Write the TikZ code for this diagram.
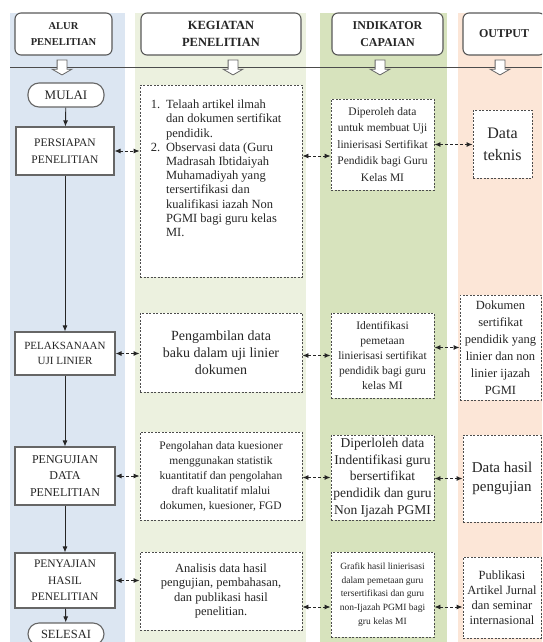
\documentclass[tikz,border=0pt]{standalone}
\usepackage{fontspec}
\setmainfont{Liberation Serif}
\usetikzlibrary{positioning,shapes.arrows,arrows.meta}
\definecolor{colblue}{RGB}{220,230,242}
\definecolor{colkeg}{RGB}{236,241,223}
\definecolor{colind}{RGB}{215,227,189}
\definecolor{colout}{RGB}{252,230,215}
\newcommand\fsz[2]{\fontsize{#1}{#2}\selectfont}
\tikzset{
  hdr/.style={
    draw=black!65, fill=white, rounded corners=6pt, line width=1.1pt, align=center, inner sep=0pt,
    text=black!85
  },
  alur/.style={
    draw=black!60, fill=white, line width=1.1pt, align=center, inner sep=0pt, text=black!85
  },
  term/.style={
    alur, rounded corners=11pt
  },
  dbox/.style={
    draw=black!70, fill=white, line width=0.9pt, dash pattern=on 2pt off 1.5pt, align=center,
    inner sep=0pt, text=black!85
  },
  downarr/.style={
    single arrow, draw=black!60, fill=white, line width=0.8pt, shape border rotate=270,
    inner sep=4.5pt, single arrow head extend=5pt, single arrow tip angle=120, minimum height=15pt
  },
  flow/.style={-{Latex[length=6pt,width=5pt]}, line width=0.9pt, black!85},
  link/.style={{Latex[length=6pt,width=5pt]}-{Latex[length=6pt,width=5pt]}, line width=0.9pt,
    dash pattern=on 3pt off 2pt, black!85}
}

\begin{document}
\begin{tikzpicture}[x=1pt,y=-1pt]
 \clip (0,0) rectangle (542,642);
 \fill[colblue] (10,13) rectangle (125,642);
 \fill[colkeg] (135,13) rectangle (306,642);
 \fill[colind] (320,13) rectangle (447,642);
 \fill[colout] (458,13) rectangle (542,642);
 \draw[black!70,line width=1pt] (10,67) -- (542,67);

 \node[hdr, minimum width=97pt, minimum height=42pt, font=\bfseries\fsz{10.5}{16}] (halur) at (63.5,34) {ALUR\\PENELITIAN};
 \node[hdr, minimum width=160pt, minimum height=42pt, font=\bfseries\fsz{12.5}{17}] (hkeg) at (221,34) {KEGIATAN\\PENELITIAN};
 \node[hdr, minimum width=111pt, minimum height=42pt, font=\bfseries\fsz{12}{17}] (hind) at (387.5,34) {INDIKATOR\\CAPAIAN};
 \node[hdr, minimum width=82pt, minimum height=42pt, font=\bfseries\fsz{12}{17}] (hout) at (504,34) {OUTPUT};

 \node[downarr] (dalur) at (62,66) {};
 \node[downarr] (dkeg) at (233,66) {};
 \node[downarr] (dind) at (380,66) {};
 \node[downarr] (dout) at (500,66) {};

 \node[term, minimum width=76pt, minimum height=24pt, font=\fsz{13}{15}] (mulai) at (66,95) {MULAI};
 \node[alur, minimum width=98pt, minimum height=48pt, font=\fsz{11.5}{17}] (pers) at (65,151) {PERSIAPAN\\PENELITIAN};
 \node[alur, minimum width=100pt, minimum height=43pt, font=\fsz{11}{15}] (pel) at (65,353.5) {PELAKSANAAN\\UJI LINIER};
 \node[alur, minimum width=100pt, minimum height=58pt, font=\fsz{12}{16.5}] (peng) at (65,476) {PENGUJIAN\\DATA\\PENELITIAN};
 \node[alur, minimum width=100pt, minimum height=55pt, font=\fsz{11.5}{16.5}] (peny) at (65,580.5) {PENYAJIAN\\HASIL\\PENELITIAN};
 \node[term, minimum width=76pt, minimum height=22pt, font=\fsz{12.5}{15}] (selesai) at (66,634) {SELESAI};

 \node[dbox, minimum width=162pt, minimum height=192pt] (k1) at (221,181) {};
 \node[below right=14pt and 11pt of k1.north west, inner sep=0pt, text=black!85, font=\fsz{12.5}{14.2}] (k1txt) {%
   \begin{tabular}{@{}l@{\hspace{6pt}}l@{}}
    1. & Telaah artikel ilmah\\
       & dan dokumen sertifikat\\
       & pendidik.\\
    2. & Observasi data (Guru\\
       & Madrasah Ibtidaiyah\\
       & Muhamadiyah yang\\
       & tersertifikasi dan\\
       & kualifikasi iazah Non\\
       & PGMI bagi guru kelas\\
       & MI.
   \end{tabular}};
 \node[dbox, minimum width=162pt, minimum height=79pt, font=\fsz{14}{17}] (k2) at (221,352.5) {Pengambilan data\\baku dalam uji linier\\dokumen};
 \node[dbox, minimum width=162pt, minimum height=88pt, font=\fsz{11.5}{15}] (k3) at (221,476) {Pengolahan data kuesioner\\menggunakan statistik\\kuantitatif dan pengolahan\\draft kualitatif mlalui\\dokumen, kuesioner, FGD};
 \node[dbox, minimum width=162pt, minimum height=78pt, font=\fsz{12.5}{14.5}] (k4) at (221,591) {Analisis data hasil\\pengujian, pembahasan,\\dan publikasi hasil\\penelitian.};

 \node[dbox, minimum width=103pt, minimum height=91pt, font=\fsz{11.5}{16.5}] (i1) at (382.5,144.5) {Diperoleh data\\untuk membuat Uji\\linierisasi Sertifikat\\Pendidik bagi Guru\\Kelas MI};
 \node[dbox, minimum width=103pt, minimum height=85pt, font=\fsz{11.5}{15}] (i2) at (382.5,355.5) {Identifikasi\\pemetaan\\linierisasi sertifikat\\pendidik bagi guru\\kelas MI};
 \node[dbox, minimum width=103pt, minimum height=85pt, font=\fsz{13.5}{16.7}] (i3) at (382.5,477.5) {Diperloleh data\\Indentifikasi guru\\bersertifikat\\pendidik dan guru\\Non Ijazah PGMI};
 \node[dbox, minimum width=103pt, minimum height=85pt, font=\fsz{9.5}{13.7}] (i4) at (382.5,594.5) {Grafik hasil linierisasi\\dalam pemetaan guru\\tersertifikasi dan guru\\non-Ijazah PGMI bagi\\gru kelas MI};

 \node[dbox, minimum width=59pt, minimum height=68pt, font=\fsz{16}{22}] (o1) at (502.5,144) {Data\\teknis};
 \node[dbox, minimum width=81pt, minimum height=105pt, font=\fsz{12.5}{17}] (o2) at (500.5,347.5) {Dokumen\\sertifikat\\pendidik yang\\linier dan non\\linier ijazah\\PGMI};
 \node[dbox, minimum width=78pt, minimum height=87pt, font=\fsz{15}{19}] (o3) at (502,478.5) {Data hasil\\pengujian};
 \node[dbox, minimum width=78pt, minimum height=81pt, font=\fsz{12.5}{15}] (o4) at (502,597.5) {Publikasi\\Artikel Jurnal\\dan seminar\\internasional};

 \coordinate (l1) at ([yshift=-11.5pt]i1.west);
 \coordinate (l4) at ([yshift=-12.5pt]i4.west);

 \draw[flow] (mulai) -- (pers);
 \draw[flow] (pers) -- (pel);
 \draw[flow] (pel) -- (peng);
 \draw[flow] (peng) -- (peny);
 \draw[flow] (peny) -- (selesai);

 \draw[link] (pers.east) -- (pers.east -| k1.west);
 \draw[link] (l1 -| k1.east) -- (l1);
 \draw[link] (i1.east) -- (i1.east -| o1.west);
 \draw[link] (pel.east) -- (pel.east -| k2.west);
 \draw[link] (i2.west -| k2.east) -- (i2.west);
 \draw[link] (o2.west -| i2.east) -- (o2.west);
 \draw[link] (peng.east) -- (peng.east -| k3.west);
 \draw[link] (i3.west -| k3.east) -- (i3.west);
 \draw[link] (o3.west -| i3.east) -- (o3.west);
 \draw[link] (peny.east) -- (peny.east -| k4.west);
 \draw[link] (l4 -| k4.east) -- (l4);
 \draw[link] (l4 -| i4.east) -- (l4 -| o4.west);
\end{tikzpicture}
\end{document}
